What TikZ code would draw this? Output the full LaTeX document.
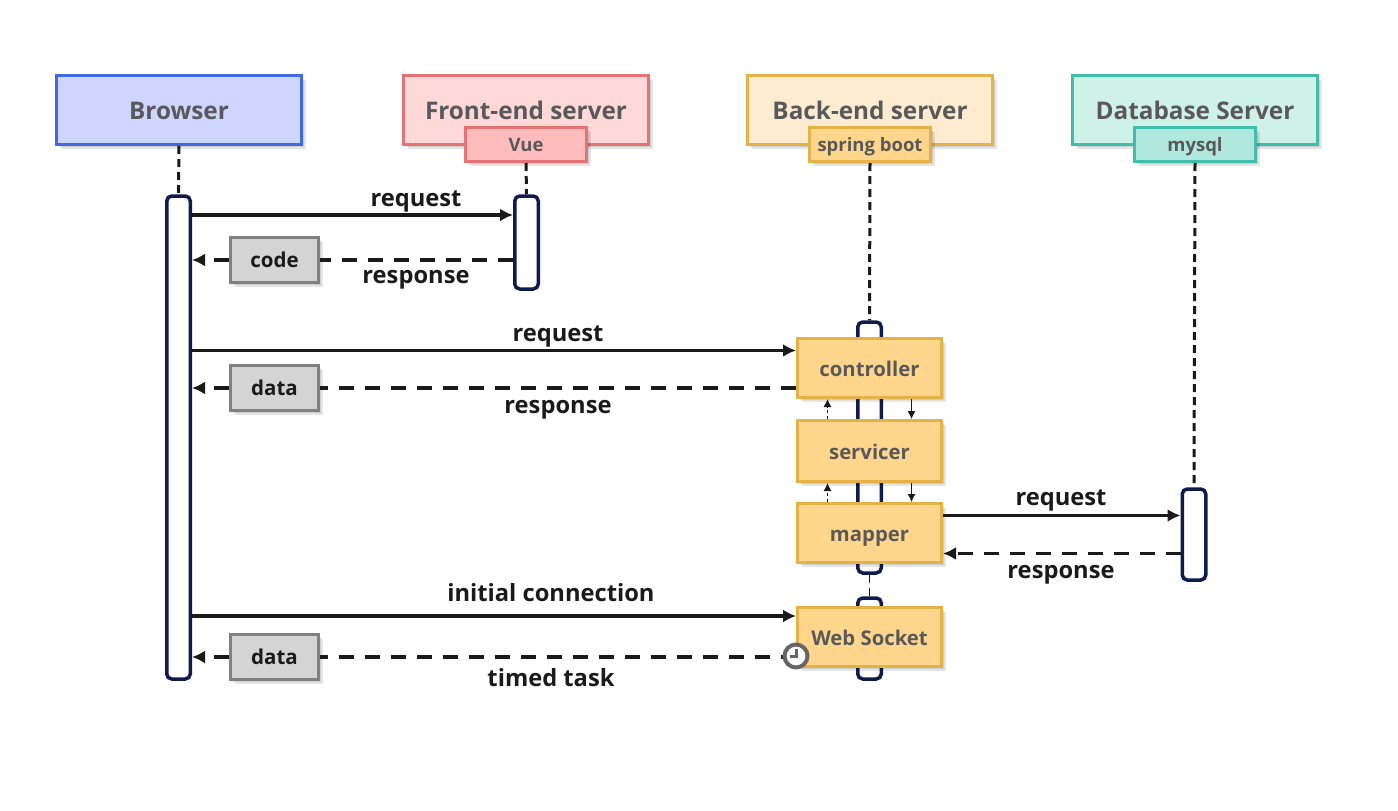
\documentclass[tikz,border=0pt]{standalone}
\usepackage{fontspec}
\setmainfont{Open Sans}
\usetikzlibrary{calc,arrows.meta,shadows}
\definecolor{inkgray}{HTML}{595959}
\definecolor{inkblack}{HTML}{1A1A1A}
\definecolor{barblue}{HTML}{0F1B4D}
\definecolor{layeredge}{HTML}{E3B348}
\definecolor{layerfill}{HTML}{FFD68C}
\tikzset{
	softshadow/.style={double copy shadow={shadow xshift=2pt,shadow yshift=-2pt,opacity=0.1,draw=none,fill=black}},
	headbox/.style={draw,line width=3pt,minimum width=245pt,minimum height=69pt,softshadow,text=inkgray,text height=21pt,text depth=2.4pt,font=\fontsize{24.3}{28}\selectfont\bfseries},
	subbox/.style={draw,line width=3pt,minimum width=121pt,minimum height=34pt,softshadow,text=inkgray,text height=16pt,text depth=1.6pt,font=\fontsize{18.5}{20}\selectfont\bfseries},
	layerbox/.style={draw=layeredge,fill=layerfill,line width=3pt,minimum width=144pt,minimum height=59pt,softshadow,text=inkgray,text height=18pt,text depth=2pt,font=\fontsize{20.3}{24}\selectfont\bfseries},
	graybox/.style={draw=black!50,fill=black!17,line width=3pt,minimum width=88pt,minimum height=45pt,softshadow,text=inkblack,text height=17pt,text depth=2.4pt,font=\fontsize{20.5}{24}\selectfont\bfseries},
	lifebar/.style={draw=barblue,fill=white,line width=3.5pt,rounded corners=5pt,minimum width=23.5pt},
	lifeline/.style={draw=inkblack,line width=3pt,dash pattern=on 8pt off 5pt},
	msg/.style={draw=inkblack,line width=3.7pt},
	msgtip/.style={-{Latex[length=13pt,width=13pt]}},
	resp/.style={msg,dash pattern=on 15pt off 11pt},
	smallstep/.style={draw=inkblack,line width=1pt,-{Latex[length=8pt,width=8pt]}},
	smallback/.style={smallstep,dash pattern=on 3pt off 3pt},
	msglabel/.style={text=inkblack,text height=19.5pt,text depth=2.1pt,font=\fontsize{23.7}{27}\selectfont\bfseries,inner sep=0pt},
}
\begin{document}
\begin{tikzpicture}[x=1pt,y=-1pt]
	\useasboundingbox (0,0) rectangle (1398,811);

	%HEADS
	\node[headbox,draw={rgb,255:red,65;green,105;blue,225},fill={rgb,255:red,206;green,214;blue,255}] (browser) at (179,110) {Browser};
	\node[headbox,draw={rgb,255:red,229;green,115;blue,115},fill={rgb,255:red,255;green,216;blue,216}] (front) at (526,110) {Front-end server};
	\node[headbox,draw=layeredge,fill={rgb,255:red,255;green,236;blue,208}] (back) at (870,110) {Back-end server};
	\node[headbox,draw={rgb,255:red,64;green,190;blue,170},fill={rgb,255:red,206;green,241;blue,232}] (database) at (1195,110) {Database Server};
	\node[subbox,draw={rgb,255:red,229;green,115;blue,115},fill={rgb,255:red,255;green,188;blue,188}] (vue) at (526,144.5) {Vue};
	\node[subbox,draw=layeredge,fill=layerfill] (spring) at (870,144.5) {spring boot};
	\node[subbox,draw={rgb,255:red,64;green,190;blue,170},fill={rgb,255:red,176;green,232;blue,221}] (mysql) at (1195,144.5) {mysql};

	%BARS
	\node[lifebar,minimum height=483pt] (browserbar) at (178.5,437.5) {};
	\node[lifebar,minimum height=93pt] (frontbar) at (526.5,242.5) {};
	\node[lifebar,minimum height=251pt] (backbar) at (869.5,447.5) {};
	\node[lifebar,minimum height=81pt] (socketbar) at (869.5,638.5) {};
	\node[lifebar,minimum height=91pt] (mysqlbar) at (1194,534.5) {};

	%LIFELINES
	\draw[lifeline] (browser.south) -- (browserbar.north);
	\draw[lifeline] (vue.south) -- (frontbar.north);
	\draw[lifeline] (spring.south) -- (backbar.north);
	\draw[lifeline] (mysql.south) -- (mysqlbar.north);
	\draw[draw=inkblack,line width=1.5pt,dash pattern=on 8pt off 5pt] (backbar.south) -- (socketbar.north);

	%LAYERS
	\node[layerbox] (controller) at (869.5,368) {controller};
	\node[layerbox,minimum height=61pt] (servicer) at (869.5,451) {servicer};
	\node[layerbox] (mapper) at (869.5,533) {mapper};
	\node[layerbox] (socket) at (869.5,637) {Web Socket};

	%GRAY BOXES
	\node[graybox] (code) at (274.5,260) {code};
	\node[graybox] (data) at (274.5,388) {data};
	\node[graybox] (pushed) at (274.5,657) {data};

	%ROWS
	\coordinate (rowa) at (0,215);
	\coordinate (rowb) at (0,350.5);
	\coordinate (rowc) at (0,515.5);
	\coordinate (rowd) at (0,553.5);
	\coordinate (rowe) at (0,616);
	\coordinate (colup) at (827.5,0);
	\coordinate (coldown) at (911.5,0);

	%MESSAGES
	\draw[msg,msgtip] (browserbar.east |- rowa) -- (frontbar.west |- rowa);
	\draw[resp] (frontbar.west |- code) -- (code.east);
	\draw[resp,msgtip] (code.west) -- (browserbar.east |- code);
	\draw[msg,msgtip] (browserbar.east |- rowb) -- (controller.west |- rowb);
	\draw[resp] (controller.west |- data) -- (data.east);
	\draw[resp,msgtip] (data.west) -- (browserbar.east |- data);
	\draw[msg,msgtip] (mapper.east |- rowc) -- (mysqlbar.west |- rowc);
	\draw[resp,msgtip] (mysqlbar.west |- rowd) -- (mapper.east |- rowd);
	\draw[msg,msgtip] (browserbar.east |- rowe) -- (socket.west |- rowe);

	%CLOCK
	\draw[resp] (socket.west |- pushed) -- (pushed.east);
	\draw[resp,msgtip] (pushed.west) -- (browserbar.east |- pushed);
	\node[circle,draw=black!60,fill=white,line width=4pt,minimum size=23pt,inner sep=0pt] (clock) at (796,656) {};
	\draw[draw=black!60,line width=3pt] ($(clock.center)+(0,-7)$) -- (clock.center) -- ($(clock.center)+(-6,0)$);

	%INSIDE THE SERVER
	\draw[smallstep] (controller.south -| coldown) -- (servicer.north -| coldown);
	\draw[smallstep] (servicer.south -| coldown) -- (mapper.north -| coldown);
	\draw[smallback] (servicer.north -| colup) -- (controller.south -| colup);
	\draw[smallback] (mapper.north -| colup) -- (servicer.south -| colup);

	%LABELS
	\node[msglabel] (reqa) at (416,198) {request};
	\node[msglabel] (respa) at (416,275) {response};
	\node[msglabel] (reqb) at (558,333) {request};
	\node[msglabel] (respb) at (558,405) {response};
	\node[msglabel] (reqc) at (1061,497) {request};
	\node[msglabel] (respc) at (1061,570) {response};
	\node[msglabel] (conn) at (551,593) {initial connection};
	\node[msglabel] (timed) at (551,678) {timed task};
\end{tikzpicture}
\end{document}
